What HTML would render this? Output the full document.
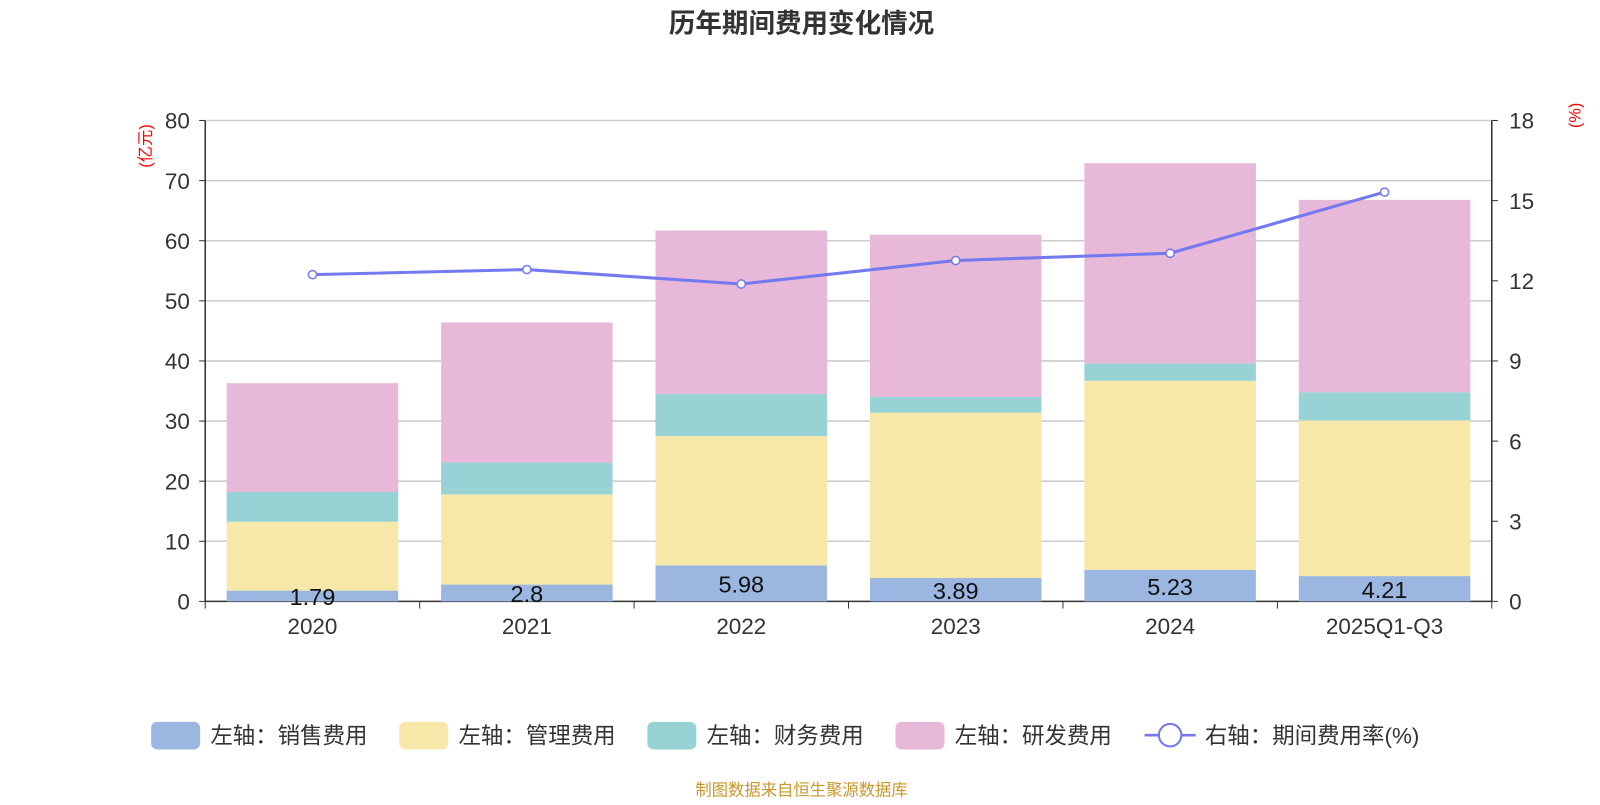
<!DOCTYPE html>
<html><head><meta charset="utf-8">
<style>
body{margin:0;background:#fff;width:1600px;height:800px;overflow:hidden;font-family:"Liberation Sans","Noto Sans CJK SC",sans-serif;}
svg text{font-family:"Liberation Sans","Noto Sans CJK SC",sans-serif;}
</style></head>
<body>
<svg id="chart" width="1600" height="800" viewBox="0 0 1567 783.5"></svg>
<script>
const categories=["2020","2021","2022","2023","2024","2025Q1-Q3"];
const sales=[1.79,2.8,5.98,3.89,5.23,4.21];
const mgmt=[11.46,15.0,21.52,27.51,31.47,25.89];
const finance=[4.95,5.3,7.0,2.6,2.9,4.7];
const rnd=[18.1,23.3,27.2,27.0,33.3,32.0];
const rate=[12.23,12.42,11.88,12.76,13.03,15.32];
const leftTicks=[0,10,20,30,40,50,60,70,80];
const rightTicks=[0,3,6,9,12,15,18];

const NS="http://www.w3.org/2000/svg";
const svg=document.getElementById('chart');
const X0=201,X1=1461,Y0=589,Y1=118;
const band=(X1-X0)/categories.length;
const yL=v=>Y0-(v/80)*(Y0-Y1);
const yR=v=>Y0-(v/18)*(Y0-Y1);
const xC=i=>X0+band*(i+0.5);
function el(tag,attrs,txt){const e=document.createElementNS(NS,tag);for(const k in attrs)e.setAttribute(k,attrs[k]);if(txt!==undefined)e.textContent=txt;svg.appendChild(e);return e;}

let t=el('text',{x:785,y:32,'text-anchor':'middle','font-size':26,'font-weight':'bold',fill:'#333'},'历年期间费用变化情况');



leftTicks.forEach(v=>{
  if(v>0){const g=el('line',{x1:X0,x2:X1,y1:yL(v),y2:yL(v),stroke:'#ccc','stroke-width':1.5});
  
  }
  const l=el('text',{x:186,y:yL(v)+8,'text-anchor':'end','font-size':22,fill:'#333'},v);
  
  
  el('line',{x1:X0-6,x2:X0,y1:yL(v),y2:yL(v),stroke:'#333'});
});
rightTicks.forEach(v=>{
  const l=el('text',{x:1478,y:yR(v)+8,'font-size':22,fill:'#333'},v);
  
  
  el('line',{x1:X1,x2:X1+6,y1:yR(v),y2:yR(v),stroke:'#333'});
});
el('line',{x1:X0,x2:X0,y1:Y1,y2:Y0,stroke:'#333','stroke-width':1.5});
el('line',{x1:X1,x2:X1,y1:Y1,y2:Y0,stroke:'#333','stroke-width':1.5});
el('line',{x1:X0,x2:X1,y1:Y0,y2:Y0,stroke:'#333','stroke-width':1.5});
for(let i=0;i<=categories.length;i++) el('line',{x1:X0+band*i,x2:X0+band*i,y1:Y0,y2:Y0+7,stroke:'#333'});

let u=el('text',{x:0,y:0,'font-size':16,fill:'red',transform:'translate(148,143) rotate(-90)','text-anchor':'middle'},'(亿元)');


u=el('text',{x:0,y:0,'font-size':16,fill:'red',transform:'translate(1548,113) rotate(-90)','text-anchor':'middle'},'(%)');



const series=[[sales,'#9bb6e0','sales'],[mgmt,'#f7e7a9','mgmt'],[finance,'#97d3d4','finance'],[rnd,'#e7b8d8','rnd']];
const bw=168;
categories.forEach((c,i)=>{
  let base=0;
  series.forEach(([arr,col,nm])=>{
    const top=base+arr[i];
    const r=el('rect',{x:xC(i)-bw/2,y:yL(top),width:bw,height:yL(base)-yL(top),fill:col});
    
    
    base=top;
  });
  const lb=el('text',{x:xC(i),y:yL(sales[i]/2)+9,'text-anchor':'middle','font-size':23,fill:'#111'},sales[i]);
  
  
  const xl=el('text',{x:xC(i),y:621,'text-anchor':'middle','font-size':22,fill:'#333'},c);
  
  
});
const pts=rate.map((v,i)=>xC(i)+','+yR(v)).join(' ');
const pl=el('polyline',{points:pts,fill:'none',stroke:'#7479f0','stroke-width':3});


rate.forEach((v,i)=>{
  const p=el('circle',{cx:xC(i),cy:yR(v),r:4,fill:'#fff',stroke:'#7479f0','stroke-width':1.5});
  
  
});

const legend=[['左轴：销售费用','#9bb6e0',148],['左轴：管理费用','#f7e7a9',391],['左轴：财务费用','#97d3d4',634],['左轴：研发费用','#e7b8d8',877]];
legend.forEach(([txt,col,x])=>{
  const r=el('rect',{x:x,y:707,width:48,height:27,rx:6,fill:col});
  
  
  const l=el('text',{x:x+58,y:728,'font-size':22,fill:'#333'},txt);
  
  
});
el('line',{x1:1121,x2:1171,y1:720,y2:720,stroke:'#7479f0','stroke-width':2.5});
let lc=el('circle',{cx:1146,cy:720,r:11,fill:'#fff',stroke:'#7479f0','stroke-width':2});


let lt=el('text',{x:1180,y:728,'font-size':22,fill:'#333'},'右轴：期间费用率(%)');



let src=el('text',{x:785,y:779,'text-anchor':'middle','font-size':16,fill:'#c8962a'},'制图数据来自恒生聚源数据库');


</script>
</body></html>
